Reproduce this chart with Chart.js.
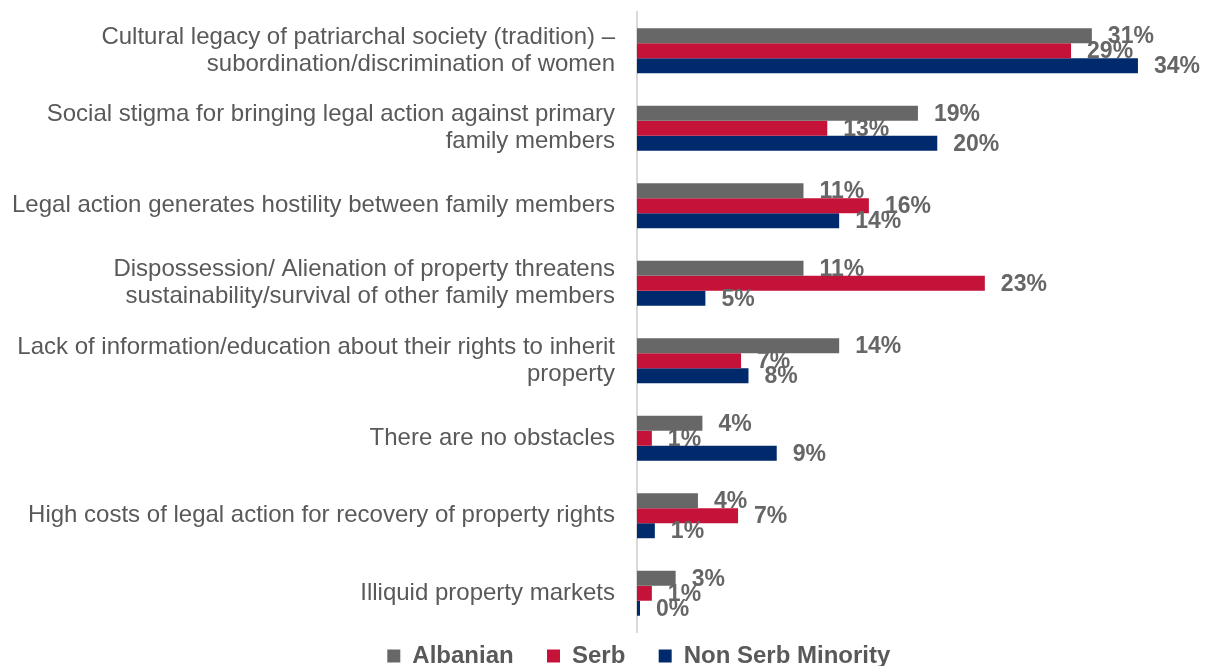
<!DOCTYPE html>
<html>
<head>
<meta charset="utf-8">
<script src="https://cdn.jsdelivr.net/npm/chart.js@4.4.1/dist/chart.umd.min.js"></script>
<style>
  html, body { margin: 0; padding: 0; background: #fff; }
  #wrap { width: 1206px; height: 666px; }
</style>
</head>
<body>
<div id="wrap"><canvas id="chart"></canvas></div>
<script>
let categories = [
    ["Cultural legacy of patriarchal society (tradition) \u2013", "subordination/discrimination of women"],
    ["Social stigma for bringing legal action against primary", "family members"],
    "Legal action generates hostility between family members",
    ["Dispossession/ Alienation of property threatens", "sustainability/survival of other family members"],
    ["Lack of information/education about their rights to inherit", "property"],
    "There are no obstacles",
    "High costs of legal action for recovery of property rights",
    "Illiquid property markets"
];
let seriesNames = ['Albanian', 'Serb', 'Non Serb Minority'];
let albanian = [30.6, 18.9, 11.2, 11.2, 13.6, 4.4, 4.1, 2.6];
let serb = [29.2, 12.8, 15.6, 23.4, 7.0, 1.0, 6.8, 1.0];
let nonSerbMinority = [33.7, 20.2, 13.6, 4.6, 7.5, 9.4, 1.2, 0.2];

const textGray = '#595959';
const labelGray = '#666666';
const fontFamily = '"Liberation Sans", Arial, sans-serif';
const leftPad = 164; // moves the centred legend right; y labels still end at 615

// value labels at the end of each bar
const barLabels = {
    id: 'barLabels',
    afterLayout(chart) {
        // let the long category labels use the padding area instead of being clipped
        chart.scales.y.left = 0;
    },
    afterDatasetsDraw(chart) {
        const ctx = chart.ctx;
        ctx.save();
        ctx.font = 'bold 23px ' + fontFamily;
        ctx.fillStyle = labelGray;
        ctx.textAlign = 'left';
        ctx.textBaseline = 'middle';
        chart.data.datasets.forEach((ds, i) => {
            chart.getDatasetMeta(i).data.forEach((bar, j) => {
                ctx.fillText(Math.round(ds.data[j]) + '%', bar.x + 16, bar.y + 1);
            });
        });
        ctx.restore();
    }
};

// spacing after each legend entry (legend padding is 0 so the row sits low)
const legendGaps = ['     ', '     ', '           '];

const ctx = document.getElementById('chart').getContext('2d');
new Chart(ctx, {
    type: 'bar',
    data: {
        labels: categories,
        datasets: [
            { label: seriesNames[0], data: albanian, backgroundColor: '#676767' },
            { label: seriesNames[1], data: serb, backgroundColor: '#C41239' },
            { label: seriesNames[2], data: nonSerbMinority, backgroundColor: '#002A6C' }
        ]
    },
    options: {
        indexAxis: 'y',
        responsive: true,
        maintainAspectRatio: false,
        animation: false,
        categoryPercentage: 0.58,
        barPercentage: 1.0,
        layout: { padding: { top: 12, right: 19, bottom: -12, left: leftPad } },
        scales: {
            x: {
                min: 0,
                max: 37,
                grid: { display: false },
                border: { display: false },
                ticks: { display: false },
                afterFit: (s) => { s.height = 12; }
            },
            y: {
                grid: { display: false, drawTicks: false },
                border: { display: true, color: '#d9d9d9', width: 2 },
                ticks: {
                    color: textGray,
                    padding: 22,
                    font: { family: fontFamily, size: 24, lineHeight: 1.13 }
                },
                afterFit: (s) => {
                    s.width = 637 - leftPad;
                    s.paddingTop = 0;
                    s.paddingBottom = 0;
                }
            }
        },
        plugins: {
            legend: {
                position: 'bottom',
                labels: {
                    color: textGray,
                    boxWidth: 13,
                    boxHeight: 13,
                    padding: 0,
                    font: { family: fontFamily, size: 24, weight: 'bold' },
                    generateLabels: (chart) => {
                        const items = Chart.defaults.plugins.legend.labels.generateLabels(chart);
                        items.forEach((it, i) => {
                            it.text = it.text + legendGaps[i];
                            it.lineWidth = 0;
                        });
                        return items;
                    }
                }
            },
            tooltip: { enabled: false }
        }
    },
    plugins: [barLabels]
});
</script>
</body>
</html>
